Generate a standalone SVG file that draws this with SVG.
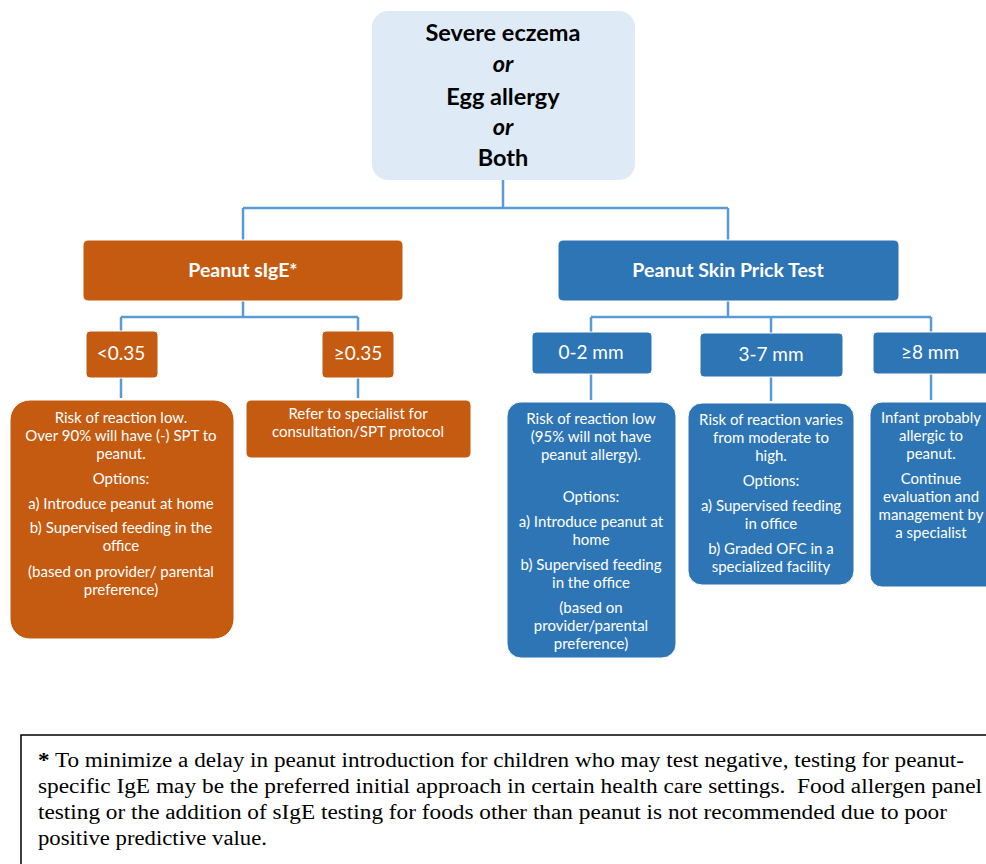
<svg xmlns="http://www.w3.org/2000/svg" width="986" height="864" viewBox="0 0 986 864">
<style>
.or{fill:#C55A11;stroke:#fff;stroke-width:1}
.bl{fill:#2E75B6;stroke:#fff;stroke-width:1}
.top{fill:#DEEBF7}
.t{font-family:Lato,"Open Sans",sans-serif;fill:#fff;text-anchor:middle;font-size:15px}
.h{font-family:Lato,"Open Sans",sans-serif;fill:#fff;text-anchor:middle;font-size:19.5px;font-weight:bold}
.l{font-family:Lato,"Open Sans",sans-serif;fill:#fff;text-anchor:middle;font-size:19px}
.k{font-family:Lato,"Open Sans",sans-serif;fill:#000;text-anchor:middle;font-size:23.5px;font-weight:bold}
.c{fill:none;stroke:#5B9BD5;stroke-width:2.5}
.fn{font-family:"Liberation Serif",serif;font-size:20.5px;fill:#000}
</style>
<g id="connectors">
<path class="c" d="M503 180V208M243 208H728M243 208V240M728 208V240"/>
<path class="c" d="M243 301V317M121 317H358M121 317V331M358 317V331"/>
<path class="c" d="M121 378V398M358 378V398"/>
<path class="c" d="M728 301V317M591 317H931M591 317V333M771 317V333M931 317V333"/>
<path class="c" d="M591 374V400M771 377V401M931 374V400"/>
</g>
<g id="root"><rect class="top" x="372" y="11" width="263" height="169" rx="16"/>
<text class="k" x="503" y="41">Severe eczema</text>
<text class="k" x="503" y="72" font-style="italic">or</text>
<text class="k" x="503" y="105">Egg allergy</text>
<text class="k" x="503" y="135" font-style="italic">or</text>
<text class="k" x="503" y="166">Both</text></g>
<g id="sige"><rect class="or" x="83" y="240" width="320" height="61" rx="5"/><text class="h" x="243" y="277">Peanut sIgE*</text></g>
<g id="spt"><rect class="bl" x="558" y="240" width="341" height="61" rx="5"/><text class="h" x="728" y="277">Peanut Skin Prick Test</text></g>
<g id="lt035"><rect class="or" x="86" y="331" width="72" height="47" rx="4"/><text class="l" x="121" y="360">&lt;0.35</text></g>
<g id="ge035"><rect class="or" x="322" y="331" width="72" height="47" rx="4"/><text class="l" x="358" y="360">≥0.35</text></g>
<g id="mm02"><rect class="bl" x="532" y="332" width="120" height="42" rx="4"/><text class="l" x="591" y="359">0-2 mm</text></g>
<g id="mm37"><rect class="bl" x="700" y="333" width="143" height="44" rx="4"/><text class="l" x="771" y="361">3-7 mm</text></g>
<g id="mm8"><rect class="bl" x="873" y="332" width="120" height="42" rx="4"/><text class="l" x="930" y="359">≥8 mm</text></g>
<g id="lowrisk"><rect class="or" x="10" y="400" width="224" height="239" rx="20"/>
<text class="t" x="121" y="423">Risk of reaction low.</text>
<text class="t" x="121" y="441">Over 90% will have (-) SPT to</text>
<text class="t" x="121" y="459">peanut.</text>
<text class="t" x="121" y="484">Options:</text>
<text class="t" x="121" y="509">a) Introduce peanut at home</text>
<text class="t" x="121" y="533">b) Supervised feeding in the</text>
<text class="t" x="121" y="551">office</text>
<text class="t" x="121" y="577">(based on provider/ parental</text>
<text class="t" x="121" y="595">preference)</text></g>
<g id="refer"><rect class="or" x="246" y="400" width="225" height="58" rx="5"/>
<text class="t" x="358" y="419">Refer to specialist for</text>
<text class="t" x="358" y="437">consultation/SPT protocol</text></g>
<g id="r02"><rect class="bl" x="507" y="402" width="169" height="256" rx="14"/>
<text class="t" x="591" y="424">Risk of reaction low</text>
<text class="t" x="591" y="442">(95% will not have</text>
<text class="t" x="591" y="460">peanut allergy).</text>
<text class="t" x="591" y="502">Options:</text>
<text class="t" x="591" y="527">a) Introduce peanut at</text>
<text class="t" x="591" y="545">home</text>
<text class="t" x="591" y="570">b) Supervised feeding</text>
<text class="t" x="591" y="588">in the office</text>
<text class="t" x="591" y="613">(based on</text>
<text class="t" x="591" y="631">provider/parental</text>
<text class="t" x="591" y="649">preference)</text></g>
<g id="r37"><rect class="bl" x="688" y="403" width="166" height="182" rx="14"/>
<text class="t" x="771" y="425">Risk of reaction varies</text>
<text class="t" x="771" y="443">from moderate to</text>
<text class="t" x="771" y="461">high.</text>
<text class="t" x="771" y="486">Options:</text>
<text class="t" x="771" y="511">a) Supervised feeding</text>
<text class="t" x="771" y="529">in office</text>
<text class="t" x="771" y="554">b) Graded OFC in a</text>
<text class="t" x="771" y="572">specialized facility</text></g>
<g id="r8"><rect class="bl" x="870" y="402" width="130" height="185" rx="12"/>
<text class="t" x="931" y="423">Infant probably</text>
<text class="t" x="931" y="441">allergic to</text>
<text class="t" x="931" y="459">peanut.</text>
<text class="t" x="931" y="484">Continue</text>
<text class="t" x="931" y="502">evaluation and</text>
<text class="t" x="931" y="520">management by</text>
<text class="t" x="931" y="538">a specialist</text></g>
<g id="footnote"><rect x="21" y="735" width="980" height="140" fill="none" stroke="#000" stroke-width="1.5"/>
<text class="fn" x="38" y="767" textLength="926" lengthAdjust="spacingAndGlyphs"><tspan font-weight="bold">*</tspan> To minimize a delay in peanut introduction for children who may test negative, testing for peanut-</text>
<text class="fn" x="38" y="793" textLength="944" lengthAdjust="spacingAndGlyphs" xml:space="preserve">specific IgE may be the preferred initial approach in certain health care settings.  Food allergen panel</text>
<text class="fn" x="38" y="819" textLength="909" lengthAdjust="spacingAndGlyphs">testing or the addition of sIgE testing for foods other than peanut is not recommended due to poor</text>
<text class="fn" x="38" y="845" textLength="229" lengthAdjust="spacingAndGlyphs">positive predictive value.</text></g>
</svg>
